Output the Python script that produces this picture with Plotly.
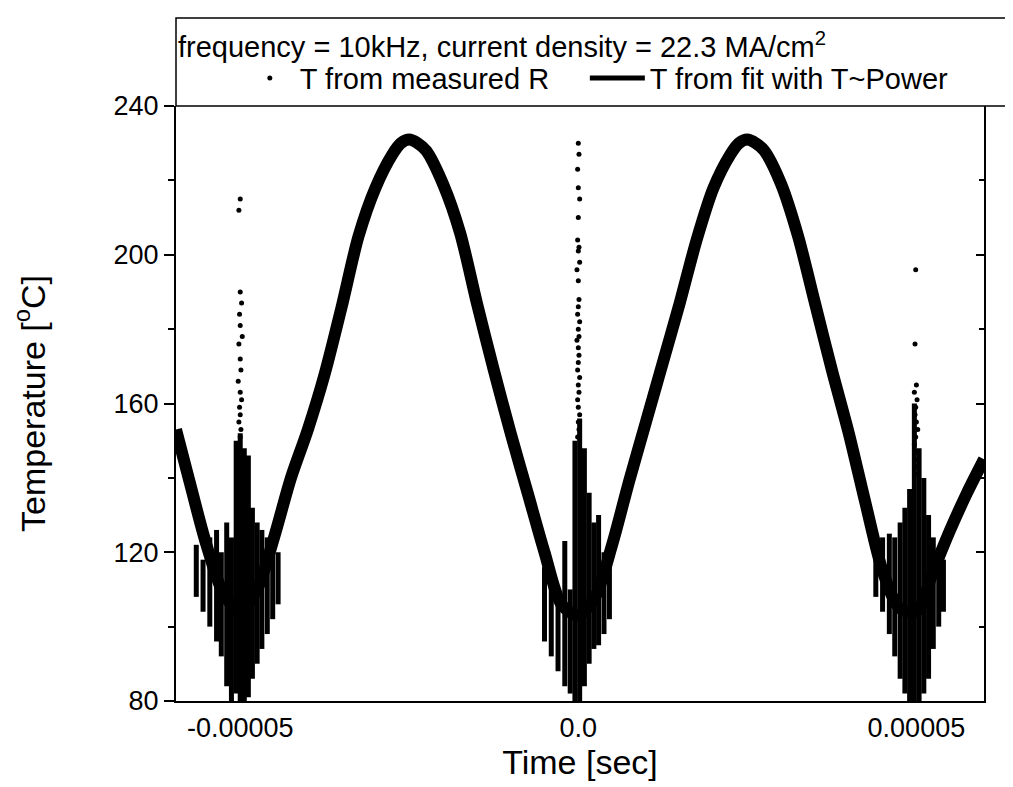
import plotly.graph_objects as go

# fit curve, time in microseconds, temperature in degC
fit_t = [-59.5, -57.5, -55, -52.5, -50, -47.5, -45, -42.5, -40, -37.5, -35, -32.5,
         -30, -27.5, -26.25, -25, -23.75, -22.5, -20, -17.5, -15, -12.5, -10, -7.5,
         -5, -2.5, 0, 2.5, 5, 7.5, 10, 12.5, 15, 17.5, 20, 22.5, 23.75, 25, 26.25,
         27.5, 30, 32.5, 35, 37.5, 40, 42.5, 45, 47.5, 50, 52.5, 55, 57.5, 60]
fit_T = [153, 139, 122, 109, 104, 110, 124, 140, 153, 168, 186, 205,
         218, 227, 230, 231, 230, 228, 219, 206, 187, 169, 152, 136,
         120, 106, 103, 108, 122, 139, 155, 171, 187, 204, 218, 227, 230, 231, 230,
         228, 219, 205, 187, 169, 152, 133, 115, 105, 104, 115, 126, 136, 145]

# sparse measured points, the spikes at the three minima
spike_t = [-50.0, -50.2, -50.0, -49.8, -50.1, -50.0, -49.7, -50.2, -50.0, -49.9,
           -50.3, -50.0, -49.8, -50.1, -50.0, -50.2, -49.9, -50.0, -50.1,
           0.0, 0.1, -0.1, 0.0, 0.2, 0.0, -0.1, 0.1, 0.0, 0.2, -0.2, 0.0,
           0.1, 0.0, -0.1, 0.2, 0.0, 0.1, -0.2, 0.0, 0.1, 0.0, -0.1, 0.2,
           0.0, 0.1, -0.1, 0.0, 0.2, 0.0, 0.1, -0.1,
           49.9, 49.8, 50.0, 49.7, 50.1, 49.9, 49.8, 50.0, 50.2, 49.9,
           49.7, 50.0, 49.8, 50.1, 49.9]
spike_T = [215, 212, 190, 187, 184, 181, 178, 176, 172, 169,
           166, 163, 161, 159, 157, 155, 153, 151, 149,
           230, 227, 223, 218, 215, 210, 204, 202, 201, 198, 196, 193,
           188, 186, 184, 182, 180, 178, 177, 175, 173, 171, 169, 167,
           165, 163, 161, 159, 157, 155, 153, 151,
           196, 176, 165, 163, 161, 159, 157, 155, 153, 151,
           149, 147, 145, 143, 141]

# dense measured data near the minima: time and the low / high end of each column
col_t = [-56.5, -55.5, -54.5, -53.5, -52.8, -52.0, -51.3, -50.6, -50.0, -49.4,
         -48.8, -48.2, -47.5, -46.8, -46.0, -45.2, -44.4,
         -5.0, -4.0, -3.0, -2.0, -1.2, -0.5, 0.2, 0.9, 1.6, 2.3, 3.0, 3.8, 4.6,
         44.0, 45.0, 46.0, 46.8, 47.6, 48.3, 49.0, 49.7, 50.4, 51.1, 51.8,
         52.5, 53.3, 54.0]
col_lo = [108, 104, 100, 96, 92, 84, 80, 82, 80, 80,
          81, 86, 90, 94, 98, 102, 106,
          96, 92, 88, 84, 82, 80, 80, 84, 90, 94, 95, 98, 102,
          108, 104, 98, 92, 86, 82, 80, 80, 80, 82, 86,
          94, 100, 104]
col_hi = [122, 118, 124, 126, 120, 128, 124, 150, 152, 148,
          146, 132, 128, 126, 124, 122, 120,
          116, 112, 110, 123, 110, 150, 156, 148, 136, 128, 130, 120, 118,
          121, 124, 125, 124, 128, 132, 137, 160, 148, 140, 130,
          124, 120, 118]

us = 1e-6
col_x, col_y = [], []
for t, lo, hi in zip(col_t, col_lo, col_hi):
    col_x += [t * us, t * us, None]
    col_y += [lo, hi, None]

fig = go.Figure()
fig.add_trace(go.Scatter(x=[t * us for t in fit_t], y=fit_T, mode='lines',
                         line=dict(color='black', width=12, shape='spline', smoothing=0.8),
                         showlegend=False, hoverinfo='skip'))
fig.add_trace(go.Scatter(x=col_x, y=col_y, mode='lines',
                         line=dict(color='black', width=5),
                         showlegend=False, hoverinfo='skip'))
fig.add_trace(go.Scatter(x=[t * us for t in spike_t], y=spike_T, mode='markers',
                         marker=dict(color='black', size=5),
                         name='T from measured R', legend='legend'))
fig.add_trace(go.Scatter(x=[None], y=[None], mode='lines', yaxis='y2',
                         line=dict(color='black', width=5),
                         name='T from fit with T~Power', legend='legend2'))

font_family = 'Liberation Sans, Arial, sans-serif'
leg = dict(orientation='h', xanchor='left', y=1.047, yanchor='middle',
           bgcolor='rgba(0,0,0,0)', borderwidth=0, font=dict(size=29))

fig.update_layout(
    width=1013, height=787,
    margin=dict(l=168, r=37, t=98, b=94),
    paper_bgcolor='white', plot_bgcolor='white',
    font=dict(family=font_family, color='black', size=27),
    xaxis=dict(range=[-59.5 * us, 60.0 * us],
               tickvals=[-5e-5, 0, 5e-5], ticktext=['-0.00005', '0.0', '0.00005'],
               showline=True, linecolor='black', linewidth=2, ticks='',
               ticklabelstandoff=2, showgrid=False, zeroline=False,
               title=dict(text='Time [sec]', font=dict(size=34), standoff=0)),
    yaxis=dict(range=[80, 240], tickvals=[80, 120, 160, 200, 240],
               showline=True, linecolor='black', linewidth=2,
               ticks='outside', ticklen=10, tickwidth=2, tickcolor='black',
               minor=dict(dtick=20, ticks='outside', ticklen=6, tickcolor='black'),
               showgrid=False, zeroline=False,
               title=dict(text='Temperature [<sup>o</sup>C]', font=dict(size=34), standoff=58)),
    yaxis2=dict(range=[80, 240], overlaying='y', side='right',
                tickvals=[80, 120, 160, 200, 240], showticklabels=False,
                showline=True, linecolor='black', linewidth=2,
                ticks='inside', ticklen=8, tickwidth=2, tickcolor='black',
                minor=dict(dtick=20, ticks='inside', ticklen=5, tickcolor='black'),
                showgrid=False, zeroline=False),
    legend=dict(leg, x=0.079, itemwidth=50),
    legend2=dict(leg, x=0.506, itemwidth=55),
    annotations=[dict(text='frequency = 10kHz, current density = 22.3 MA/cm<sup>2</sup>',
                      xref='paper', yref='paper', x=0.0, y=1.1025,
                      xanchor='left', yanchor='middle', showarrow=False,
                      font=dict(size=29))],
    shapes=[dict(type='rect', xref='paper', yref='paper', x0=0, x1=1.2, y0=1, y1=1.148,
                 line=dict(color='black', width=1.5), fillcolor='rgba(0,0,0,0)')],
)

fig.write_html("out.html")
